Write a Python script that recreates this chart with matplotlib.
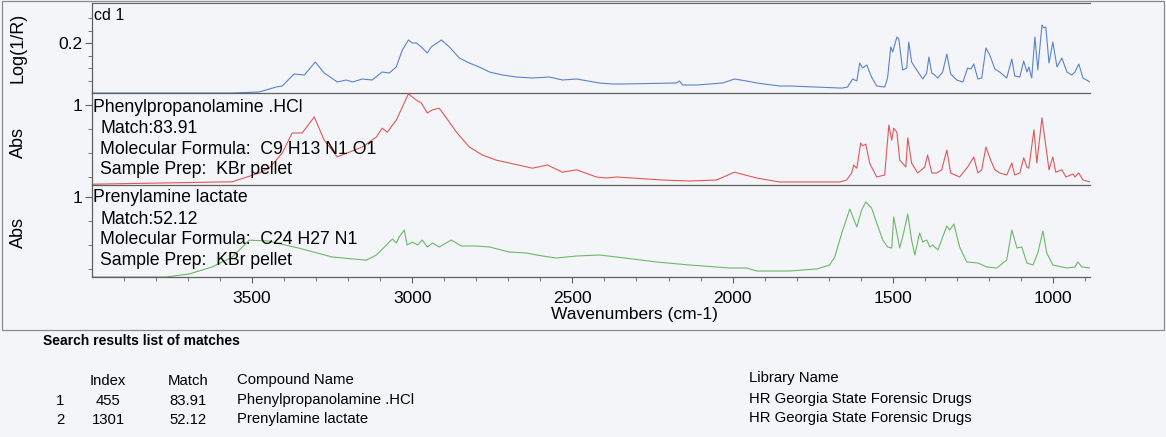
import numpy as np
import matplotlib
matplotlib.use("Agg")
import matplotlib.pyplot as plt
from matplotlib.patches import Rectangle

plt.rcParams['font.family'] = ['Liberation Sans', 'DejaVu Sans']

W, H = 1166, 437

# sample spectrum (cd 1), Log(1/R)
sample_wn = [4000, 3563, 3478, 3425, 3406, 3369, 3337, 3303, 3275, 3234, 3206, 3187,
             3156, 3125, 3094, 3072, 3050, 3031, 3012, 3000, 2987, 2972, 2953, 2941,
             2909, 2884, 2853, 2822, 2791, 2759, 2719, 2675, 2625, 2572, 2531, 2487,
             2416, 2375, 2344, 2175, 2166, 2156, 2112, 2031, 1994, 1956, 1925, 1853,
             1822, 1666, 1656, 1641, 1625, 1612, 1603, 1594, 1581, 1566, 1550, 1525,
             1516, 1506, 1500, 1487, 1481, 1469, 1456, 1450, 1441, 1425, 1406, 1394,
             1387, 1378, 1369, 1359, 1344, 1331, 1319, 1300, 1281, 1266, 1256, 1247,
             1234, 1222, 1209, 1197, 1181, 1166, 1144, 1128, 1119, 1103, 1091, 1081,
             1075, 1066, 1056, 1047, 1034, 1028, 1022, 1012, 1000, 987, 972, 956,
             941, 931, 919, 906, 884]
sample_val = [0.000, 0.000, 0.004, 0.024, 0.028, 0.076, 0.072, 0.124, 0.080, 0.044, 0.052, 0.044,
              0.056, 0.052, 0.084, 0.080, 0.104, 0.172, 0.212, 0.200, 0.200, 0.184, 0.160, 0.184,
              0.212, 0.184, 0.140, 0.120, 0.104, 0.084, 0.072, 0.064, 0.060, 0.064, 0.052, 0.056,
              0.040, 0.036, 0.036, 0.040, 0.048, 0.032, 0.032, 0.040, 0.056, 0.048, 0.040, 0.028,
              0.028, 0.020, 0.020, 0.024, 0.056, 0.048, 0.120, 0.100, 0.112, 0.064, 0.028, 0.024,
              0.060, 0.184, 0.164, 0.224, 0.216, 0.092, 0.100, 0.204, 0.124, 0.092, 0.056, 0.080,
              0.144, 0.080, 0.072, 0.060, 0.084, 0.156, 0.076, 0.052, 0.044, 0.100, 0.096, 0.116,
              0.056, 0.060, 0.180, 0.152, 0.096, 0.084, 0.060, 0.136, 0.068, 0.064, 0.128, 0.084,
              0.104, 0.060, 0.224, 0.092, 0.272, 0.260, 0.264, 0.120, 0.204, 0.104, 0.140, 0.084,
              0.072, 0.084, 0.116, 0.060, 0.044]

# match 1: Phenylpropanolamine .HCl
match1_wn = [4000, 3562, 3478, 3447, 3425, 3406, 3375, 3344, 3306, 3275, 3234, 3197,
             3156, 3112, 3094, 3078, 3050, 3031, 3012, 2987, 2972, 2953, 2937, 2916,
             2894, 2862, 2822, 2781, 2737, 2697, 2625, 2578, 2531, 2487, 2425, 2394,
             2362, 2219, 2134, 2050, 1994, 1925, 1853, 1666, 1644, 1628, 1622, 1612,
             1600, 1594, 1584, 1572, 1550, 1525, 1512, 1503, 1497, 1487, 1478, 1459,
             1453, 1441, 1422, 1400, 1391, 1378, 1362, 1347, 1331, 1319, 1291, 1266,
             1247, 1234, 1222, 1209, 1194, 1181, 1166, 1144, 1128, 1119, 1103, 1091,
             1081, 1075, 1059, 1050, 1034, 1019, 1012, 1000, 991, 972, 959, 937,
             931, 919, 906, 884]
match1_val = [0.01, 0.04, 0.15, 0.21, 0.31, 0.40, 0.65, 0.65, 0.85, 0.56, 0.35, 0.41,
              0.475, 0.60, 0.71, 0.66, 0.81, 0.975, 1.14, 1.06, 1.025, 0.90, 0.94, 0.96,
              0.84, 0.66, 0.475, 0.375, 0.31, 0.275, 0.21, 0.25, 0.16, 0.19, 0.10, 0.0875,
              0.10, 0.0625, 0.05, 0.0625, 0.16, 0.0875, 0.0375, 0.0375, 0.0625, 0.15, 0.25, 0.21,
              0.525, 0.49, 0.51, 0.275, 0.10, 0.125, 0.75, 0.56, 0.71, 0.66, 0.31, 0.225,
              0.59, 0.275, 0.15, 0.225, 0.375, 0.15, 0.15, 0.19, 0.4375, 0.15, 0.10, 0.225,
              0.35, 0.15, 0.19, 0.475, 0.31, 0.19, 0.15, 0.125, 0.275, 0.125, 0.15, 0.34,
              0.225, 0.21, 0.69, 0.275, 0.84, 0.40, 0.19, 0.35, 0.16, 0.19, 0.10, 0.1375,
              0.10, 0.15, 0.0625, 0.0375]

# match 2: Prenylamine lactate
match2_wn = [4000, 3769, 3697, 3625, 3562, 3509, 3447, 3425, 3353, 3250, 3144, 3112,
             3087, 3072, 3062, 3050, 3041, 3025, 3016, 3000, 2984, 2969, 2953, 2937,
             2916, 2878, 2847, 2800, 2759, 2697, 2644, 2594, 2550, 2487, 2416, 2362,
             2237, 2134, 2009, 1956, 1925, 1822, 1737, 1697, 1681, 1659, 1634, 1612,
             1597, 1584, 1566, 1550, 1531, 1516, 1503, 1497, 1487, 1478, 1466, 1453,
             1441, 1431, 1416, 1406, 1394, 1384, 1375, 1359, 1344, 1331, 1322, 1309,
             1291, 1269, 1234, 1206, 1175, 1144, 1128, 1112, 1097, 1081, 1062, 1047,
             1031, 1019, 1000, 956, 931, 922, 909, 884]
match2_val = [0.0, 0.0, 0.0375, 0.125, 0.25, 0.46, 0.45, 0.425, 0.36, 0.25, 0.21, 0.275,
              0.375, 0.4375, 0.475, 0.425, 0.50, 0.5875, 0.40, 0.4375, 0.40, 0.4625, 0.375, 0.425,
              0.375, 0.4625, 0.3875, 0.3875, 0.375, 0.3125, 0.30, 0.2625, 0.2375, 0.2625, 0.275, 0.25,
              0.1875, 0.15, 0.1125, 0.1125, 0.075, 0.075, 0.10, 0.15, 0.25, 0.55, 0.85, 0.625,
              0.8375, 0.9375, 0.8625, 0.675, 0.4625, 0.375, 0.3625, 0.75, 0.55, 0.3625, 0.55, 0.7875,
              0.4625, 0.275, 0.55, 0.4375, 0.4625, 0.375, 0.40, 0.3375, 0.50, 0.6375, 0.5875, 0.6625,
              0.375, 0.1875, 0.175, 0.125, 0.1125, 0.2125, 0.5875, 0.3625, 0.375, 0.175, 0.15, 0.30,
              0.575, 0.30, 0.15, 0.1125, 0.125, 0.1875, 0.125, 0.1125]

wn_ticks = [3500, 3000, 2500, 2000, 1500, 1000]
wn_minor = list(range(3900, 899, -100))

match1_text = ["Phenylpropanolamine .HCl", "Match:83.91",
               "Molecular Formula:  C9 H13 N1 O1", "Sample Prep:  KBr pellet"]
match2_text = ["Prenylamine lactate", "Match:52.12",
               "Molecular Formula:  C24 H27 N1", "Sample Prep:  KBr pellet"]

table_index = ["455", "1301"]
table_match = ["83.91", "52.12"]
table_name = ["Phenylpropanolamine .HCl", "Prenylamine lactate"]
table_lib = ["HR Georgia State Forensic Drugs", "HR Georgia State Forensic Drugs"]

bg = '#f4f5f8'
edge = '#606060'


def fx(px):
    return px / W


def fy(py):
    return 1 - py / H


fig = plt.figure(figsize=(W / 100, H / 100), dpi=100, facecolor=bg)

# outer frame of the printout
fig.patches.append(Rectangle((fx(2), fy(330)), fx(1162), 329 / H, transform=fig.transFigure,
                             fill=False, edgecolor='#8a8a8a', linewidth=0.9))

left, right = 92, 1090
panels = [(3, 93), (93, 185), (185, 277)]
axes = []
for top, bot in panels:
    ax = fig.add_axes([fx(left), fy(bot), fx(right - left), (bot - top) / H])
    ax.set_facecolor('none')
    ax.set_xlim(4000, 884)
    for s in ['right', 'top']:
        ax.spines[s].set_visible(False)
    for s in ['left', 'bottom']:
        ax.spines[s].set_color(edge)
        ax.spines[s].set_linewidth(0.9)
    ax.tick_params(axis='y', which='major', direction='out', length=5, width=0.8,
                   color=edge, labelsize=12.5, pad=2)
    ax.tick_params(axis='y', which='minor', direction='out', length=3, width=0.6, color=edge)
    axes.append(ax)

ax1, ax2, ax3 = axes
ax1.spines['top'].set_visible(True)
ax1.spines['top'].set_color(edge)

ax1.plot(sample_wn, sample_val, color='#5b82cc', linewidth=0.8)
ax1.set_ylim(0, 0.36)
ax1.set_yticks([0.2])
ax1.set_yticklabels(['0.2'])
ax1.set_yticks([0.05, 0.1, 0.15, 0.25, 0.3], minor=True)

ax2.plot(match1_wn, match1_val, color='#e2575a', linewidth=0.8)
ax3.plot(match2_wn, match2_val, color='#6db86a', linewidth=0.8)
for ax in (ax2, ax3):
    ax.set_ylim(0, 1.15)
    ax.set_yticks([1])
    ax.set_yticklabels(['1'])
    ax.set_yticks([0.1, 0.4, 0.7], minor=True)

for ax in (ax1, ax2):
    ax.set_xticks([])
    ax.set_xticks([], minor=True)

ax3.set_xticks(wn_ticks)
ax3.set_xticklabels([str(t) for t in wn_ticks])
ax3.set_xticks(wn_minor, minor=True)
ax3.tick_params(axis='x', which='major', direction='out', length=4, width=0.8,
                color=edge, labelsize=12.5, pad=6)
ax3.tick_params(axis='x', which='minor', direction='out', length=3, width=0.6, color=edge)

fig.text(fx(634), fy(315), "Wavenumbers (cm-1)", fontsize=12.5, ha='center', va='center')
fig.text(fx(18), fy(48), "Log(1/R)", fontsize=13, rotation=90, ha='center', va='center')
fig.text(fx(18), fy(143), "Abs", fontsize=13, rotation=90, ha='center', va='center')
fig.text(fx(18), fy(233), "Abs", fontsize=13, rotation=90, ha='center', va='center')

fig.text(fx(94), fy(16), "cd 1", fontsize=11.5, ha='left', va='center')
for lines, y0 in ((match1_text, 107), (match2_text, 198)):
    fig.text(fx(93), fy(y0), lines[0], fontsize=12.7, ha='left', va='center')
    for i, t in enumerate(lines[1:]):
        fig.text(fx(100), fy(y0 + 21.5 + i * 20.5), t, fontsize=12.7, ha='left', va='center')

# search results table
fig.text(fx(43), fy(341), "Search results list of matches", fontsize=10,
         fontweight='bold', ha='left', va='center')
fs = 10.7
fig.text(fx(108), fy(381), "Index", fontsize=fs, ha='center', va='center')
fig.text(fx(188), fy(381), "Match", fontsize=fs, ha='center', va='center')
fig.text(fx(237), fy(380), "Compound Name", fontsize=fs, ha='left', va='center')
fig.text(fx(749), fy(378), "Library Name", fontsize=fs, ha='left', va='center')
for i in range(len(table_index)):
    yy = 401 + i * 19
    fig.text(fx(60), fy(yy), str(i + 1), fontsize=fs, ha='center', va='center')
    fig.text(fx(108), fy(yy), table_index[i], fontsize=fs, ha='center', va='center')
    fig.text(fx(188), fy(yy), table_match[i], fontsize=fs, ha='center', va='center')
    fig.text(fx(237), fy(yy - 1), table_name[i], fontsize=fs, ha='left', va='center')
    fig.text(fx(749), fy(yy - 2), table_lib[i], fontsize=fs, ha='left', va='center')

fig.savefig("out.png", dpi=100, facecolor=bg)
